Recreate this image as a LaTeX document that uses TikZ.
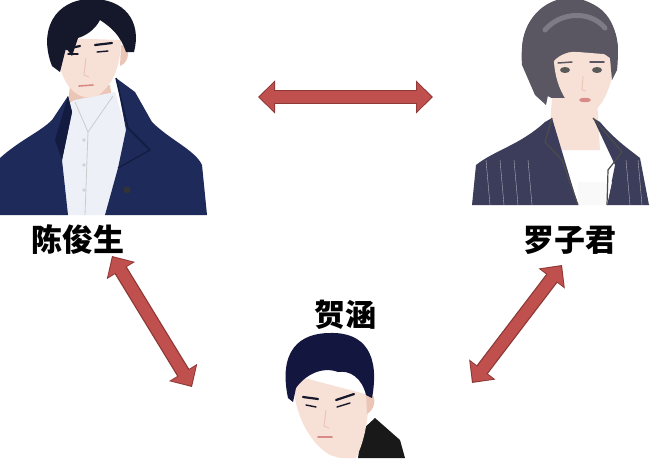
\documentclass[tikz,border=0pt]{standalone}
\usepackage{fontspec}
\newfontfamily\cjk{Noto Sans CJK SC}
\usetikzlibrary{arrows.meta}
\definecolor{arrred}{HTML}{C0504D}
\definecolor{arrdark}{HTML}{8C3836}
\definecolor{navy}{HTML}{1E2B5A}
\definecolor{navydark}{HTML}{131C40}
\definecolor{hairdark}{HTML}{15182A}
\definecolor{hairgrey}{HTML}{5A5762}
\definecolor{hairgreyl}{HTML}{7E7B86}
\definecolor{skin}{HTML}{F7E0D6}
\definecolor{skinshade}{HTML}{EBC6B6}
\definecolor{shirt}{HTML}{EEF0F8}
\definecolor{suit}{HTML}{3C3D5A}
\definecolor{lipc}{HTML}{D98A86}
\tikzset{
  namelabel/.style={font=\cjk\bfseries\fontsize{31}{34}\selectfont, text=black, inner sep=0pt},
  relouter/.style={line width=14pt, draw=arrdark,
     {Triangle[length=17pt,width=32pt]}-{Triangle[length=17pt,width=32pt]}},
  relinner/.style={line width=11.5pt, draw=arrred, shorten >=1.6pt, shorten <=1.6pt,
     {Triangle[length=14.5pt,width=28pt]}-{Triangle[length=14.5pt,width=28pt]}},
  eyestroke/.style={draw=hairdark, line width=1.4pt, line cap=round},
  browstroke/.style={draw=hairdark, line width=2.2pt, line cap=round}
}
\begin{document}
\begin{tikzpicture}[x=1pt,y=-1pt]
\useasboundingbox (0,0) rectangle (650,458);
\fill[white] (0,0) rectangle (650,458);

% ---------- Portrait 1: Chen Junsheng ----------
% neck
\fill[skinshade] (70,85) -- (110,85) -- (116,125) -- (66,125) -- cycle;
% shirt
\fill[shirt] (60,108) -- (75,100) -- (115,92) -- (126,130) -- (120,215) -- (55,215) -- (57,150) -- cycle;
\draw[gray!40, line width=0.8pt] (75,102) -- (88,132) -- (113,96);
\draw[gray!40, line width=0.8pt] (88,132) -- (85,215);
\foreach \yy in {140,165,190} \fill[gray!35] (84,\yy) circle (1.8);
% coat left
\fill[navy] (0,158) .. controls (20,140) and (40,132) .. (52,120) -- (68,96) -- (72,112) -- (62,160) -- (68,215) -- (0,215) -- cycle;
\fill[navydark] (68,96) -- (72,112) -- (62,160) -- (55,140) -- cycle;
% coat right
\fill[navy] (116,78) -- (135,92) -- (152,122) .. controls (170,140) and (195,150) .. (202,165) -- (207,215) -- (105,215) -- (118,168) -- (126,130) -- cycle;
\draw[navydark, line width=1.5pt] (116,78) -- (128,128) -- (150,150);
\draw[navydark, line width=1.2pt] (118,168) -- (150,150);
\fill[black!80] (127,190) circle (3.5);
% face
\fill[skin] (60,38) .. controls (56,62) and (62,80) .. (72,90) .. controls (80,98) and (90,100) .. (100,94) .. controls (112,84) and (120,70) .. (121,40) -- cycle;
\fill[skinshade] (121,45) .. controls (130,44) and (131,62) .. (120,66) -- cycle;
% hair
\fill[hairdark] (52,66) .. controls (38,30) and (55,0) .. (90,-1) .. controls (125,-2) and (142,22) .. (134,52) -- (126,52) .. controls (120,35) and (112,28) .. (100,20) .. controls (95,30) and (85,36) .. (78,38) -- (72,56) -- (66,48) -- (60,72) -- cycle;
% features
\draw[browstroke] (66,49) -- (80,46);
\draw[browstroke] (95,45) -- (112,43);
\draw[eyestroke] (68,54) -- (78,54);
\draw[eyestroke] (97,52) -- (108,51);
\draw[skinshade, line width=1pt] (86,58) -- (84,75) -- (89,77);
\draw[lipc, line width=1.6pt, line cap=round] (79,86) -- (93,85);

% ---------- Portrait 2: Luo Zijun ----------
% hair back
\fill[hairgrey] (570,50) ellipse [x radius=48, y radius=52];
% neck
\fill[skin] (552,98) -- (597,98) -- (600,150) -- (548,150) -- cycle;
% jacket
\fill[suit] (472,205) -- (476,165) .. controls (495,150) and (520,145) .. (545,122) -- (552,118) -- (578,205) -- cycle;
\fill[suit] (593,118) -- (600,122) .. controls (615,140) and (630,150) .. (640,158) -- (649,205) -- (607,205) -- (615,165) -- cycle;
% white top
\fill[white!95!gray] (578,182) -- (612,182) -- (607,205) -- (578,205) -- cycle;
% lapel lines
\draw[black!70, line width=1.2pt] (552,118) -- (545,142) -- (562,160) -- (578,205);
\draw[black!70, line width=1.2pt] (593,118) -- (622,152) -- (608,170) -- (607,205);
\foreach \xx in {486,500,514,528,626,638} \draw[white!60!suit, line width=0.4pt] (\xx,160) -- (\xx+4,205);
% face
\fill[skin] (554,50) .. controls (552,80) and (565,108) .. (585,116) .. controls (600,112) and (613,90) .. (615,55) -- cycle;
% fringe
\fill[hairgrey] (522,65) .. controls (518,15) and (548,0) .. (572,0) .. controls (605,0) and (622,25) .. (617,70) -- (612,80) -- (610,58) .. controls (600,50) and (590,48) .. (580,52) .. controls (570,50) and (558,55) .. (553,62) -- (550,85) -- (546,105) -- (535,95) -- cycle;
\draw[hairgreyl, line width=5pt, line cap=round] (545,30) .. controls (560,12) and (590,10) .. (605,28);
% features
\draw[draw=hairgrey, line width=1.5pt, line cap=round] (558,63) -- (572,62);
\draw[draw=hairgrey, line width=1.5pt, line cap=round] (590,62) -- (604,62);
\fill[black!65] (565,70) ellipse [x radius=5, y radius=3];
\fill[black!65] (597,70) ellipse [x radius=5, y radius=3];
\draw[skinshade, line width=0.9pt] (583,76) -- (582,90) -- (586,91);
\fill[lipc] (585,100) ellipse [x radius=6, y radius=2.2];

% ---------- Portrait 3: He Han ----------
% clothing
\fill[black!90] (362,430) -- (375,418) -- (400,440) -- (405,458) -- (358,458) -- cycle;
% face
\fill[skin] (293,375) .. controls (292,405) and (305,440) .. (330,455) -- (340,458) -- (356,458) .. controls (365,440) and (368,420) .. (369,395) -- cycle;
\fill[skinshade] (366,392) .. controls (376,390) and (378,408) .. (367,414) -- cycle;
% hair
\fill[hairdark!90!blue] (288,398) .. controls (278,350) and (300,333) .. (330,333) .. controls (365,332) and (380,355) .. (372,398) -- (366,395) .. controls (362,378) and (350,370) .. (338,372) .. controls (322,366) and (305,375) .. (296,388) -- (293,402) -- cycle;
% features
\draw[browstroke] (303,397) -- (318,399);
\draw[browstroke] (336,400) -- (354,394);
\draw[eyestroke] (306,405) -- (316,407);
\draw[eyestroke] (337,407) -- (350,403);
\draw[skinshade, line width=1pt] (326,410) -- (324,426) -- (329,428);
\draw[lipc, line width=1.6pt, line cap=round] (318,437) -- (332,437);

% ---------- Labels ----------
\node[namelabel] (chen) at (78,240) {陈俊生};
\node[namelabel] (luo) at (570,240) {罗子君};
\node[namelabel] (he) at (345,315) {贺涵};

% ---------- Relation arrows ----------
\coordinate (topL) at (258,97);
\coordinate (topR) at (433,97);
\coordinate (chenA) at (112,256);
\coordinate (heL) at (192,387);
\coordinate (luoA) at (562,265);
\coordinate (heR) at (472,383);
\foreach \a/\b in {topL/topR, chenA/heL, luoA/heR}{
  \draw[relouter] (\a) -- (\b);
  \draw[relinner] (\a) -- (\b);
}
\end{tikzpicture}
\end{document}
